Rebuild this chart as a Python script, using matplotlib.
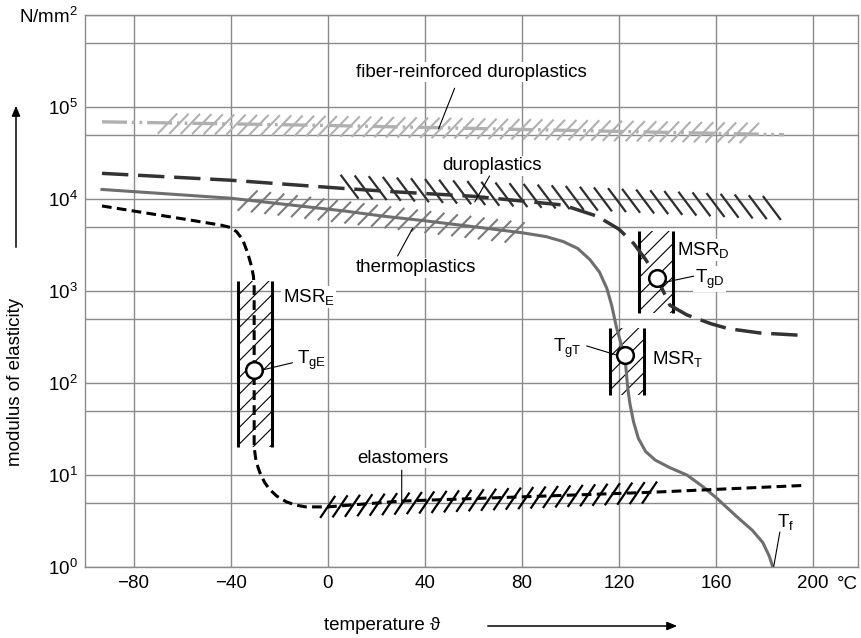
"""
Modulus of elasticity of plastics vs. temperature, with the main softening ranges (MSR).
"""

import numpy as np
import matplotlib
matplotlib.use("Agg")
import matplotlib.pyplot as plt
from matplotlib.collections import LineCollection
from matplotlib.patches import Rectangle, FancyArrowPatch
from matplotlib.ticker import NullFormatter

# temperature in °C, modulus in N/mm²
fiber_T = [-93, 0, 80, 188]
fiber_E = [6.9e4, 6.3e4, 5.7e4, 5.0e4]

duro_T = [-93, -40, 7, 27, 60, 97, 111, 120, 126, 131, 135.6, 141, 148, 158, 165, 178, 195]
duro_E = [1.9e4, 1.6e4, 1.3e4, 1.2e4, 1.07e4, 8.6e3, 6.5e3, 4.7e3, 3.3e3, 2.2e3, 1.4e3,
          700, 550, 440, 390, 350, 330]

thermo_T = [-93, -40, 7, 23, 40, 60, 80, 90, 97, 103, 108, 112, 115, 117, 119, 121,
            122.4, 123.6, 124.5, 126, 128, 131, 135, 141, 148, 154.5, 160.3, 165, 169.8,
            175, 179.3, 182, 183.4]
thermo_E = [1.27e4, 1.02e4, 7.4e3, 6.5e3, 5.8e3, 5.0e3, 4.3e3, 3.9e3, 3.45e3, 2.9e3, 2.2e3,
            1.6e3, 1.07e3, 700, 400, 260, 200, 90, 60, 38, 25, 18, 14.5, 12, 10, 7.5, 5.6,
            4.3, 3.3, 2.5, 1.84, 1.3, 1.0]

elast_T = [-93, -60, -44, -40, -37.5, -35, -33, -31.5, -30.6, -30.3, -30.3, -30.3, -29.5,
           -28, -26, -24, -21, -17, -13, -9, 0, 30, 134, 196]
elast_E = [8.4e3, 6.1e3, 5.2e3, 4.9e3, 4.4e3, 3.6e3, 2.6e3, 1.9e3, 1.45e3, 1.1e3, 140, 20,
           14, 10.7, 8.3, 7.0, 5.9, 5.1, 4.7, 4.5, 4.5, 5.2, 6.5, 7.7]

# scatter bands (hatched) around the curves
fiber_band_T = [-66, 177]
fiber_band_E = [6.6e4, 5.2e4]
thermo_band_T = [-33, 78]
thermo_band_E = [9.6e3, 4.3e3]
duro_band_T = [9, 117, 187]
duro_band_E = [1.36e4, 9.8e3, 7.9e3]
elast_band_T = [0, 136]
elast_band_E = [4.5, 6.5]

# main softening ranges and glass transition temperatures
msr_names = ["E", "T", "D"]
msr_T0 = [-37.1, 116.2, 128.2]
msr_T1 = [-23.1, 130.2, 142.2]
msr_E0 = [20, 74, 580]
msr_E1 = [1300, 400, 4500]
tg_T = [-30.3, 122.4, 135.6]
tg_E = [140, 200, 1400]

x_ticks = [-80, -40, 0, 40, 80, 120, 160, 200]
x_labels = ["\u221280", "\u221240", "0", "40", "80", "120", "160", "200"]
y_ticks = [1, 10, 100, 1e3, 1e4, 1e5, 1e6]
y_labels = [r"$\mathregular{10^{%d}}$" % i for i in range(6)] + [r"$\mathregular{N/mm^2}$"]
y_grid_minor = [5, 50, 500, 5e3, 5e4, 5e5]

plt.rcParams["font.family"] = ["Liberation Sans", "DejaVu Sans"]
plt.rcParams["mathtext.fontset"] = "custom"
plt.rcParams["mathtext.rm"] = "Liberation Sans"
plt.rcParams["mathtext.it"] = "Liberation Sans:italic"
plt.rcParams["mathtext.bf"] = "Liberation Sans:bold"
plt.rcParams["lines.scale_dashes"] = False
plt.rcParams["hatch.linewidth"] = 0.8

FS = 13.5
GRID = "#8a8a8a"


def hatch_band(ax, band_T, band_E, spacing, half_w, half_h, color, lw, slant=1):
    """Short slanted strokes along a band (log axis)."""
    xs = np.arange(band_T[0], band_T[-1] + 1e-9, spacing)
    logc = np.interp(xs, band_T, np.log10(band_E))
    segs = [[(x - slant * half_w, 10 ** (c - half_h)), (x + slant * half_w, 10 ** (c + half_h))]
            for x, c in zip(xs, logc)]
    ax.add_collection(LineCollection(segs, colors=color, linewidths=lw, zorder=2))


def label(ax, x, y, s, ha="center", va="center"):
    ax.text(x, y, s, ha=ha, va=va, fontsize=FS, zorder=6,
            bbox=dict(fc="white", ec="none", pad=1.0))


def leader(ax, p0, p1):
    ax.annotate("", xy=p1, xytext=p0,
                arrowprops=dict(arrowstyle="-", lw=0.8, color="black",
                                shrinkA=0, shrinkB=0), zorder=6)


def main():
    fig = plt.figure(figsize=(8.61, 6.38), dpi=100)
    ax = fig.add_axes([85 / 861, 71 / 638, 773 / 861, 552 / 638])
    ax.set_yscale("log")
    ax.set_xlim(-100, 218.5)
    ax.set_ylim(1, 1e6)

    # grid and axes frame
    ax.set_xticks(x_ticks, x_labels)
    ax.set_yticks(y_ticks, y_labels)
    ax.set_yticks(y_grid_minor, minor=True)
    ax.yaxis.set_minor_formatter(NullFormatter())
    ax.tick_params(which="both", length=0, labelsize=FS)
    ax.tick_params(axis="x", pad=6)
    ax.tick_params(axis="y", pad=5)
    ax.grid(True, which="both", color=GRID, lw=1.0)
    ax.set_axisbelow(True)
    for sp in ax.spines.values():
        sp.set_color(GRID)
        sp.set_linewidth(1.0)
    ax.text(210, -0.016, "\u00b0C", transform=ax.get_xaxis_transform(),
            ha="left", va="top", fontsize=FS)

    # hatched scatter bands
    hatch_band(ax, fiber_band_T, fiber_band_E, 4.7, 4.0, 0.11, "#b0b0b0", 1.5)
    hatch_band(ax, thermo_band_T, thermo_band_E, 5.5, 4.1, 0.11, "#7c7c7c", 1.5)
    hatch_band(ax, duro_band_T, duro_band_E, 5.8, 3.7, 0.13, "#2e2e2e", 1.6, slant=-1)
    hatch_band(ax, elast_band_T, elast_band_E, 5.1, 3.1, 0.12, "black", 1.6)

    # softening range boxes
    for t0, t1, e0, e1 in zip(msr_T0, msr_T1, msr_E0, msr_E1):
        ax.add_patch(Rectangle((t0, e0), t1 - t0, e1 - e0, fill=False, hatch="//",
                               edgecolor="black", lw=0, zorder=2))
        ax.vlines([t0, t1], e0, e1, colors="black", lw=2.2, zorder=3)

    # the four material curves
    ax.plot(fiber_T, fiber_E, color="#b0b0b0", lw=2.4,
            dashes=(18, 3.5, 2, 3.5, 2, 3.5), zorder=3)
    ax.plot(duro_T, duro_E, color="#333333", lw=2.5, dashes=(19, 7), zorder=3)
    ax.plot(thermo_T, thermo_E, color="#6e6e6e", lw=2.2, zorder=3)
    ax.plot(elast_T, elast_E, color="black", lw=2.2, dashes=(7, 3.8), zorder=3)

    ax.plot(tg_T, tg_E, "o", ms=12, mfc="white", mec="black", mew=1.8, zorder=5)

    # curve labels
    label(ax, 59, 2.4e5, "fiber-reinforced duroplastics")
    leader(ax, (52.3, 1.6e5), (45.7, 5.8e4))
    label(ax, 67.6, 2.3e4, "duroplastics")
    leader(ax, (66.7, 1.78e4), (60.6, 9.3e3))
    label(ax, 36.2, 1.78e3, "thermoplastics")
    leader(ax, (28.8, 2.4e3), (35, 4.8e3))
    label(ax, 30.9, 15.3, "elastomers")
    leader(ax, (30.5, 11.3), (30.5, 5.0))

    # MSR and Tg labels
    label(ax, -18.6, 860, r"$\mathregular{MSR_E}$", ha="left")
    label(ax, -12.8, 174, r"$\mathregular{T_{gE}}$", ha="left")
    leader(ax, (-27.2, 138), (-14.5, 166))
    label(ax, 143.8, 2.8e3, r"$\mathregular{MSR_D}$", ha="left")
    label(ax, 151.2, 1.35e3, r"$\mathregular{T_{gD}}$", ha="left")
    leader(ax, (139.3, 1.25e3), (150.8, 1.45e3))
    label(ax, 133.5, 182, r"$\mathregular{MSR_T}$", ha="left")
    label(ax, 104.7, 235, r"$\mathregular{T_{gT}}$", ha="right")
    leader(ax, (106.7, 253), (119.1, 201))
    label(ax, 185, 3.1, r"$\mathregular{T_f}$", ha="left")
    leader(ax, (186.3, 2.4), (183.8, 1.02))

    # axis titles with arrows
    fig.text(16 / 861, 1 - 382 / 638, "modulus of elasticity", rotation=90,
             ha="center", va="center", fontsize=FS)
    fig.add_artist(FancyArrowPatch(
        (16 / 861, 1 - 250 / 638), (16 / 861, 1 - 103 / 638), transform=fig.transFigure,
        arrowstyle="-|>,head_length=6,head_width=2.5", lw=1.1, color="black"))
    fig.text(324 / 861, 1 - 626 / 638, "temperature \u03d1", ha="left", va="center",
             fontsize=FS)
    fig.add_artist(FancyArrowPatch(
        (485 / 861, 1 - 626 / 638), (680 / 861, 1 - 626 / 638), transform=fig.transFigure,
        arrowstyle="-|>,head_length=6,head_width=2.5", lw=1.1, color="black"))

    fig.savefig("out.png", dpi=100)


if __name__ == "__main__":
    main()
